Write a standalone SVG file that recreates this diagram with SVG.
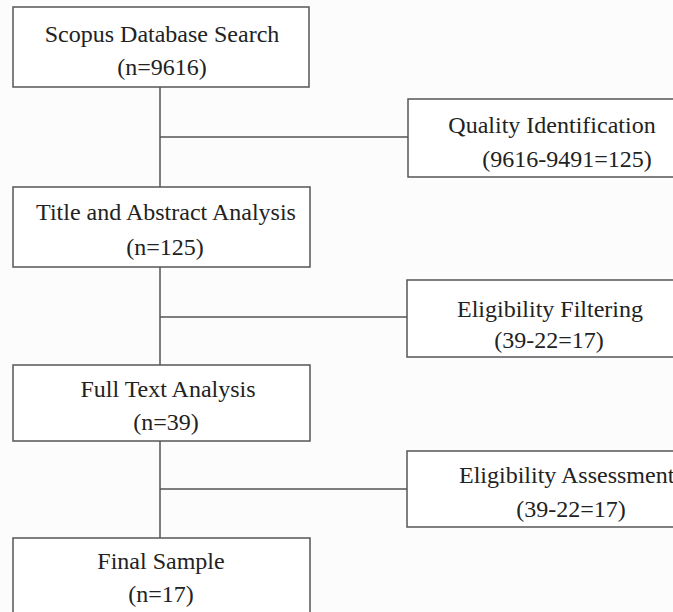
<svg xmlns="http://www.w3.org/2000/svg" width="673" height="612" viewBox="0 0 673 612">
<style>
.box{fill:#ffffff;stroke:#555;stroke-width:1.5}
.ln{stroke:#555;stroke-width:1.5;fill:none}
text{font-family:"Liberation Serif","Times New Roman",serif;font-size:24px;fill:#222;text-anchor:middle}
</style>
<rect width="673" height="612" fill="#fcfcfc"/>
<g id="connectors">
<line class="ln" x1="160" y1="87" x2="160" y2="187"/>
<line class="ln" x1="160" y1="137" x2="408" y2="137"/>
<line class="ln" x1="160" y1="267" x2="160" y2="365"/>
<line class="ln" x1="160" y1="317" x2="407" y2="317"/>
<line class="ln" x1="160" y1="441" x2="160" y2="538"/>
<line class="ln" x1="160" y1="489" x2="407" y2="489"/>
</g>
<g id="scopus">
<rect class="box" x="13" y="7" width="296" height="80"/>
<text x="162" y="42">Scopus Database Search</text>
<text x="162" y="75">(n=9616)</text>
</g>
<g id="quality">
<rect class="box" x="408" y="99" width="280" height="78"/>
<text x="552" y="133">Quality Identification</text>
<text x="567" y="167">(9616-9491=125)</text>
</g>
<g id="title-abstract">
<rect class="box" x="13" y="187" width="297" height="80"/>
<text x="166" y="220">Title and Abstract Analysis</text>
<text x="165" y="255">(n=125)</text>
</g>
<g id="eligibility-filtering">
<rect class="box" x="407" y="280" width="280" height="77"/>
<text x="550" y="317">Eligibility Filtering</text>
<text x="549" y="348">(39-22=17)</text>
</g>
<g id="full-text">
<rect class="box" x="13" y="365" width="297" height="76"/>
<text x="168" y="397">Full Text Analysis</text>
<text x="166" y="430">(n=39)</text>
</g>
<g id="eligibility-assessment">
<rect class="box" x="407" y="451" width="280" height="76"/>
<text x="459" y="483" style="text-anchor:start">Eligibility Assessment</text>
<text x="571" y="517">(39-22=17)</text>
</g>
<g id="final-sample">
<rect class="box" x="13" y="538" width="297" height="90"/>
<text x="161" y="569">Final Sample</text>
<text x="161" y="602">(n=17)</text>
</g>
</svg>
